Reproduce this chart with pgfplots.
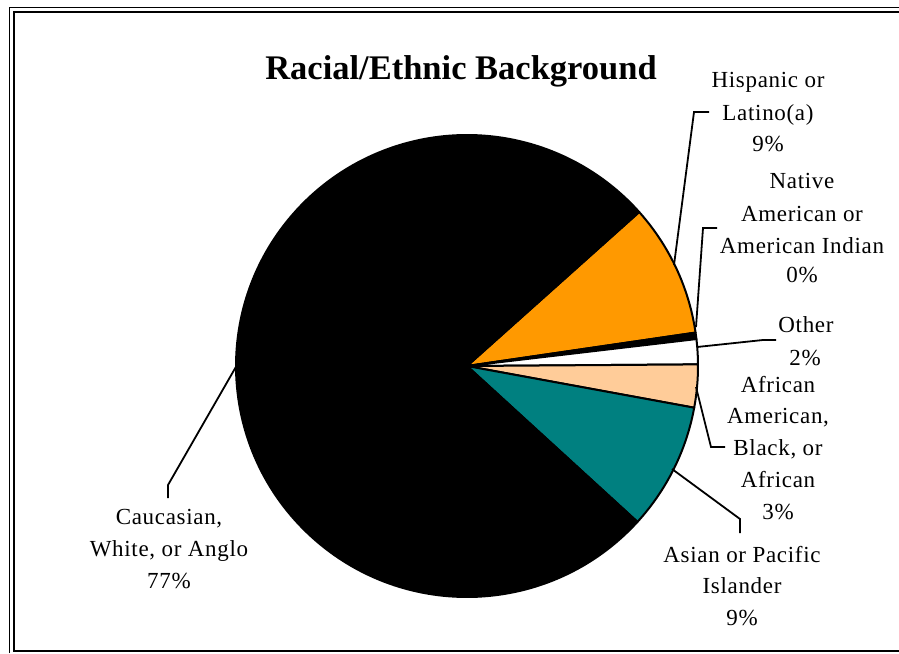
\documentclass[border=0pt]{standalone}
\usepackage{pgfplots}
\pgfplotsset{compat=1.18}
\usepackage{pgfplotstable}
\usepackage{fontspec}
\setmainfont{Liberation Serif}
\definecolor{hisp}{HTML}{FF9900}
\definecolor{afr}{HTML}{FFCC99}
\definecolor{asia}{HTML}{008080}

% share of each group, in percent, clockwise from the start angle
\pgfplotstableread{
group value colour
Hispanic 9.3 hisp
Native 0.45 black
Other 1.75 white
African 3.0 afr
Asian 8.9 asia
Caucasian 76.6 black
}\piedata

\newcommand\lblfont{\fontsize{23}{28}\selectfont\addfontfeatures{LetterSpace=3}}
\newcommand\lbl[3]{\node[anchor=base, inner sep=0pt, font=\lblfont] at (axis cs:#1,#2) {#3};}

\begin{document}
\begin{tikzpicture}
\begin{axis}[name=ax, hide axis, scale only axis, width=899pt, height=653pt,
  xmin=0, xmax=899, ymin=0, ymax=653, y dir=reverse, clip=false]
\pgfplotsextra{
  \gdef\cur{41.8}
  \foreach \i in {0,...,5}{
    \pgfplotstablegetelem{\i}{value}\of\piedata
    \pgfmathsetmacro\endang{\cur-3.6*\pgfplotsretval}
    \pgfplotstablegetelem{\i}{colour}\of\piedata
    \edef\col{\pgfplotsretval}
    \filldraw[fill=\col, draw=black, line width=2pt, line join=round]
      (axis cs:467,366) -- +(\cur:231pt) arc[start angle=\cur, end angle=\endang, radius=231pt] -- cycle;
    \xdef\cur{\endang}
  }
}
% frame
\draw[line width=1.6pt] (axis cs:9.5,653) -- (axis cs:9.5,7.5) -- (axis cs:899,7.5);
\draw[line width=2.2pt] (axis cs:899,12.3) -- (axis cs:14.3,12.3) -- (axis cs:14.3,651) -- (axis cs:899,651);
% title
\node[anchor=base, inner sep=0pt, font=\fontsize{34.5}{40}\selectfont\bfseries] at (axis cs:461,79) {Racial/Ethnic Background};
% leader lines
\draw[line width=1.8pt] (axis cs:674,265) -- (axis cs:694,112) -- (axis cs:709,112);
\draw[line width=1.8pt] (axis cs:696,327) -- (axis cs:703,228) -- (axis cs:717,228);
\draw[line width=1.8pt] (axis cs:697,347) -- (axis cs:763,340) -- (axis cs:776,340);
\draw[line width=1.8pt] (axis cs:696,387) -- (axis cs:711,447) -- (axis cs:725,447);
\draw[line width=1.8pt] (axis cs:672,469) -- (axis cs:740,519) -- (axis cs:740,533);
\draw[line width=1.8pt] (axis cs:237,365) -- (axis cs:168,485) -- (axis cs:168,498);
% labels
\lbl{768}{87}{Hispanic or}
\lbl{768}{120}{Latino(a)}
\lbl{768}{151}{9\%}
\lbl{802}{188}{Native}
\lbl{802}{221}{American or}
\lbl{802}{253}{American Indian}
\lbl{802}{282}{0\%}
\lbl{806}{332}{Other}
\lbl{805}{365}{2\%}
\lbl{778}{392}{African}
\lbl{778}{423}{American,}
\lbl{778}{455}{Black, or}
\lbl{778}{487}{African}
\lbl{778}{519}{3\%}
\lbl{742}{562}{Asian or Pacific}
\lbl{742}{593}{Islander}
\lbl{742}{625}{9\%}
\lbl{169}{524}{Caucasian,}
\lbl{169}{556}{White, or Anglo}
\lbl{169}{588}{77\%}
\end{axis}
\pgfresetboundingbox
\path[use as bounding box] (ax.south west) rectangle (ax.north east);
\end{tikzpicture}
\end{document}
